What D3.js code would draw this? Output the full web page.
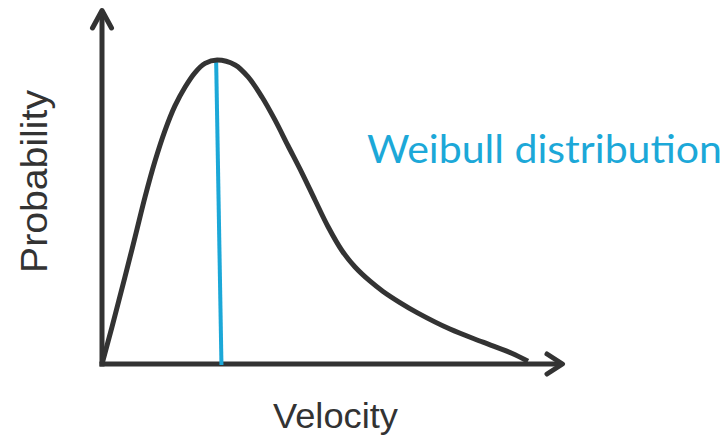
<!DOCTYPE html>
<html>
<head>
<meta charset="utf-8">
<script src="https://cdn.jsdelivr.net/npm/d3@7/dist/d3.min.js"></script>
<style>
  html, body { margin: 0; padding: 0; background: #ffffff; }
  svg { display: block; }
</style>
</head>
<body>
<script>
// Wind speed distribution sketch: velocity (m/s) vs probability density
const velocity = [0, 0.43, 0.99, 1.43, 1.86, 2.29, 2.72, 3.15, 3.59, 4.02, 4.45, 4.97,
  5.75, 6.31, 6.91, 7.47, 8.03, 8.64, 9.20, 9.76, 10.37, 10.93, 11.58, 12.14, 12.87,
  13.61, 15.03, 16.46, 17.70, 18.40];
const probability = [0, 0.0166, 0.0391, 0.0571, 0.0751, 0.0912, 0.1049, 0.1160, 0.1245,
  0.1310, 0.1351, 0.1366, 0.1344, 0.1290, 0.1200, 0.1097, 0.0982, 0.0858, 0.0737,
  0.0618, 0.0509, 0.0436, 0.0372, 0.0326, 0.0276, 0.0231, 0.0157, 0.0098, 0.0048,
  0.0012];
// Most frequent velocity marker (top at the peak, base on the axis)
const modeVelocity = [4.93, 5.16];
const modeProbability = [0.1366, 0];

const xLabel = "Velocity";
const yLabel = "Probability";
const curveLabel = "Weibull distribution";

const W = 728, H = 440;
const ink = "#333333";
const blue = "#1ca8d8";

const svg = d3.select("body").append("svg")
  .attr("width", W).attr("height", H);

const x = d3.scaleLinear().domain([0, 20]).range([102, 565]);
const y = d3.scaleLinear().domain([0, 0.16]).range([364, 8]);

const pts = velocity.map((v, i) => [v, probability[i]]);

// Axes drawn as plain arrows (no ticks)
const x0 = x(0), y0 = y(0);
const xEnd = x.range()[1], yEnd = y.range()[1];

svg.append("line")
  .attr("x1", x0).attr("y1", y0 + 2.5)
  .attr("x2", x0).attr("y2", yEnd + 3)
  .attr("stroke", ink).attr("stroke-width", 5);
svg.append("line")
  .attr("x1", x0 - 2.5).attr("y1", y0)
  .attr("x2", xEnd - 3).attr("y2", y0)
  .attr("stroke", ink).attr("stroke-width", 5);

const arrow = d3.line();
svg.append("path")
  .attr("d", arrow([[x0 - 9.5, yEnd + 20], [x0, yEnd + 2.5], [x0 + 9.5, yEnd + 20]]))
  .attr("fill", "none").attr("stroke", ink).attr("stroke-width", 5)
  .attr("stroke-linejoin", "round").attr("stroke-linecap", "round");
svg.append("path")
  .attr("d", arrow([[xEnd - 18, y0 - 10], [xEnd - 2.5, y0], [xEnd - 18, y0 + 10]]))
  .attr("fill", "none").attr("stroke", ink).attr("stroke-width", 5)
  .attr("stroke-linejoin", "round").attr("stroke-linecap", "round");

// Mode marker
svg.append("line")
  .attr("x1", x(modeVelocity[0])).attr("y1", y(modeProbability[0]))
  .attr("x2", x(modeVelocity[1])).attr("y2", y(modeProbability[1]) + 1)
  .attr("stroke", blue).attr("stroke-width", 4);

// Distribution curve
const line = d3.line()
  .x(d => x(d[0]))
  .y(d => y(d[1]))
  .curve(d3.curveCatmullRom.alpha(0.5));
svg.append("path")
  .datum(pts)
  .attr("d", line)
  .attr("fill", "none")
  .attr("stroke", ink)
  .attr("stroke-width", 5)
  .attr("stroke-linecap", "butt");

// Labels
svg.append("text")
  .attr("x", 273).attr("y", 428)
  .attr("font-family", "'Liberation Sans', Arial, sans-serif")
  .attr("font-size", 35)
  .attr("fill", ink)
  .attr("textLength", 125).attr("lengthAdjust", "spacingAndGlyphs")
  .text(xLabel);

svg.append("text")
  .attr("transform", "translate(47,181.5) rotate(-90)")
  .attr("text-anchor", "middle")
  .attr("font-family", "'Liberation Sans', Arial, sans-serif")
  .attr("font-size", 36)
  .attr("fill", ink)
  .attr("textLength", 183).attr("lengthAdjust", "spacingAndGlyphs")
  .text(yLabel);

svg.append("text")
  .attr("x", 367).attr("y", 163)
  .attr("font-family", "Lato, 'Open Sans', sans-serif")
  .attr("font-size", 38)
  .attr("fill", blue)
  .attr("textLength", 355).attr("lengthAdjust", "spacingAndGlyphs")
  .text(curveLabel);
</script>
</body>
</html>
